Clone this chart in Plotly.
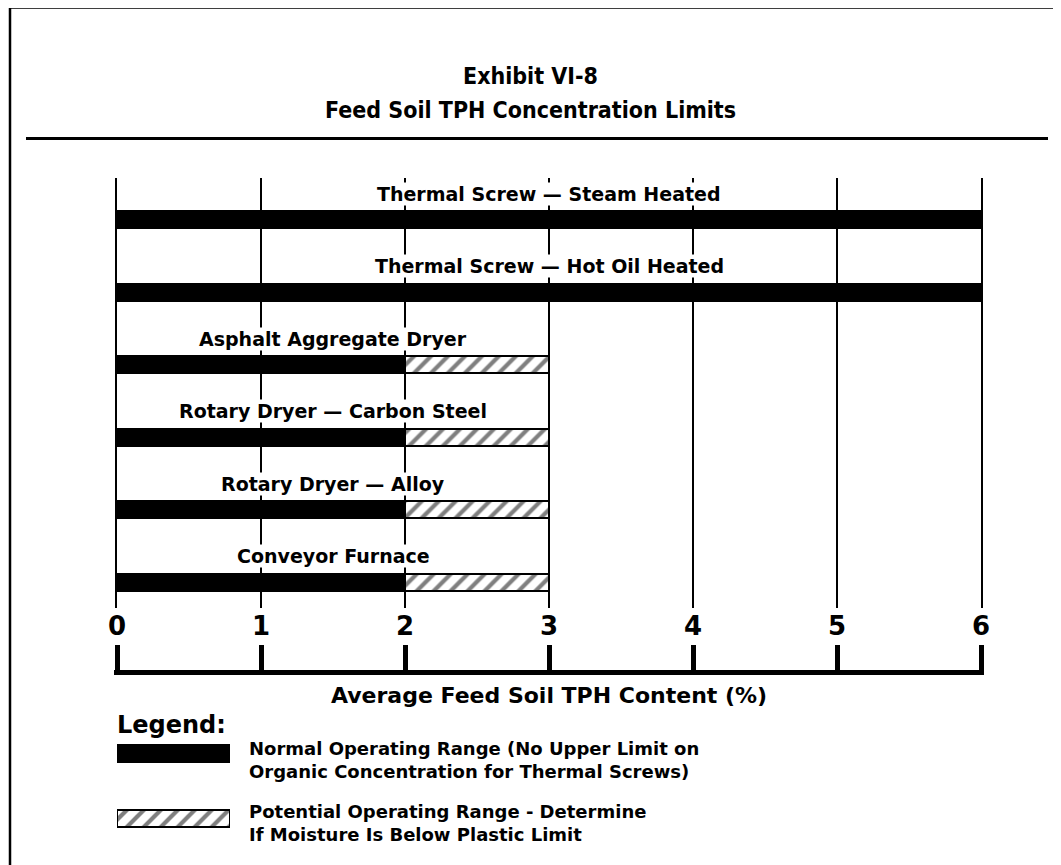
import plotly.graph_objects as go

# ---------------- data ----------------
categories = [
    "Thermal Screw \u2014 Steam Heated",
    "Thermal Screw \u2014 Hot Oil Heated",
    "Asphalt Aggregate Dryer",
    "Rotary Dryer \u2014 Carbon Steel",
    "Rotary Dryer \u2014 Alloy",
    "Conveyor Furnace",
]
normal_upper = [6, 6, 2, 2, 2, 2]       # normal operating range: 0 .. value (% TPH)
potential_upper = [6, 6, 3, 3, 3, 3]    # potential operating range: normal .. value
tick_vals = [0, 1, 2, 3, 4, 5, 6]
tick_text = ["0", "1", "2", "3", "4", "5", "6"]
title_lines = ["Exhibit VI-8", "Feed Soil TPH Concentration Limits"]
axis_title = "Average Feed Soil TPH Content (%)"
legend_heading = "Legend:"
legend_normal = ["Normal Operating Range (No Upper Limit on",
                 "Organic Concentration for Thermal Screws)"]
legend_potential = ["Potential Operating Range - Determine",
                    "If Moisture Is Below Plastic Limit"]

# ---------------- geometry helpers (screen pixel -> paper fraction) ----------------
OFF = 8                       # page body margin of the html page
FW, FH = 1061 - OFF, 865 - OFF
P_LEFT, P_RIGHT, P_TOP, P_BOT = 108, 995, 178, 850   # paper area in screen px
ML = P_LEFT - OFF
MR = FW - (P_RIGHT - OFF)
MT = P_TOP - OFF
MB = FH - (P_BOT - OFF)


def px_x(x):
    return (x - P_LEFT) / (P_RIGHT - P_LEFT)


def px_y(y):
    return (P_BOT - y) / (P_BOT - P_TOP)


X0_PX, X6_PX = 117, 981
UNIT_PX = (X6_PX - X0_PX) / 6
ROW_PITCH = 72.5
ROW0 = 219.5
BAR_PX = 19
PLOT_TOP, PLOT_BOT = 178, 608

idx = list(range(len(categories)))
bold = dict(family="DejaVu Sans", color="black", weight="bold")
hatch = dict(shape="/", fgcolor="black", bgcolor="white", size=12, solidity=0.35)

fig = go.Figure()

# normal operating range (solid black)
fig.add_trace(go.Bar(
    y=idx, x=normal_upper, base=[0] * len(idx), orientation="h",
    width=BAR_PX / ROW_PITCH,
    marker=dict(color="black", line=dict(width=0)),
    showlegend=False, hoverinfo="skip",
))

# potential operating range (hatched)
pot_y = [i for i in idx if potential_upper[i] > normal_upper[i]]
fig.add_trace(go.Bar(
    y=pot_y,
    x=[potential_upper[i] - normal_upper[i] for i in pot_y],
    base=[normal_upper[i] for i in pot_y],
    orientation="h",
    width=(BAR_PX - 2) / ROW_PITCH,
    marker=dict(color="white", line=dict(color="black", width=2), pattern=hatch),
    showlegend=False, hoverinfo="skip",
))

# empty trace so the bottom bracket axis (x2 / y4) is drawn
fig.add_trace(go.Scatter(x=[], y=[], xaxis="x2", yaxis="y4", showlegend=False))

# legend swatches (separate small subplot)
LEG_PITCH = 64.5
LEG_ROW0 = 753.5
fig.add_trace(go.Bar(
    y=[0], x=[1], orientation="h", width=BAR_PX / LEG_PITCH,
    marker=dict(color="black", line=dict(width=0)),
    xaxis="x3", yaxis="y3", showlegend=False, hoverinfo="skip",
))
fig.add_trace(go.Bar(
    y=[1], x=[1], orientation="h", width=(BAR_PX - 2) / LEG_PITCH,
    marker=dict(color="white", line=dict(color="black", width=2), pattern=hatch),
    xaxis="x3", yaxis="y3", showlegend=False, hoverinfo="skip",
))

annotations = []
# bar labels, centred over each bar's full extent
for i in idx:
    annotations.append(dict(
        x=potential_upper[i] / 2, y=i - 26 / ROW_PITCH, xref="x", yref="y",
        text=categories[i], showarrow=False, xanchor="center", yanchor="middle",
        font=dict(size=19, **bold), bgcolor="white", borderpad=0,
    ))

# title
title_font = dict(family="DejaVu Sans Condensed, DejaVu Sans", size=23,
                  color="black", weight="bold")
for line, ypx in zip(title_lines, [76, 110]):
    annotations.append(dict(
        x=px_x(530.5), y=px_y(ypx), xref="paper", yref="paper", text=line,
        showarrow=False, xanchor="center", yanchor="middle", font=title_font,
    ))

# axis title
annotations.append(dict(
    x=px_x((X0_PX + X6_PX) / 2), y=px_y(695), xref="paper", yref="paper",
    text=axis_title, showarrow=False, xanchor="center", yanchor="middle",
    font=dict(size=22, **bold),
))

# legend texts
annotations.append(dict(
    x=px_x(115), y=px_y(725), xref="paper", yref="paper", text=legend_heading,
    showarrow=False, xanchor="left", yanchor="middle", font=dict(size=24, **bold),
))
for lines, ypx in zip([legend_normal, legend_potential], [759.5, 823]):
    annotations.append(dict(
        x=px_x(247), y=px_y(ypx), xref="paper", yref="paper",
        text="<br>".join(lines), align="left",
        showarrow=False, xanchor="left", yanchor="middle", font=dict(size=18, **bold),
    ))

shapes = [
    # outer frame
    dict(type="rect", xref="paper", yref="paper",
         x0=px_x(10), x1=px_x(1080), y0=px_y(7.5), y1=px_y(890),
         line=dict(color="black", width=2.5), fillcolor="rgba(0,0,0,0)", layer="above"),
    # separator under the title
    dict(type="line", xref="paper", yref="paper",
         x0=px_x(26), x1=px_x(1048), y0=px_y(138.5), y1=px_y(138.5),
         line=dict(color="black", width=3)),
]

y_range = [(PLOT_BOT - ROW0) / ROW_PITCH, (PLOT_TOP - ROW0) / ROW_PITCH]
leg_top, leg_bot = 735, 836
leg_range = [(leg_bot - LEG_ROW0) / LEG_PITCH, (leg_top - LEG_ROW0) / LEG_PITCH]
ext = 3 / UNIT_PX   # bracket axis extends 3 px past 0 and 6 so its end ticks show

fig.update_layout(
    width=FW, height=FH,
    margin=dict(l=ML, r=MR, t=MT, b=MB, pad=0),
    paper_bgcolor="white", plot_bgcolor="white",
    barmode="overlay", bargap=0,
    showlegend=False,
    xaxis=dict(
        domain=[px_x(X0_PX), px_x(X6_PX)], anchor="y", range=[0, 6],
        tickmode="array", tickvals=tick_vals, ticktext=tick_text,
        ticks="", showgrid=True, gridcolor="black", gridwidth=2,
        zeroline=False, showline=False,
        tickfont=dict(size=26, **bold),
    ),
    yaxis=dict(
        domain=[px_y(PLOT_BOT), px_y(PLOT_TOP)], anchor="x", range=y_range,
        showticklabels=False, showgrid=False, zeroline=False,
        showline=True, linecolor="black", linewidth=2, mirror=True, ticks="",
    ),
    xaxis2=dict(
        domain=[px_x(X0_PX - 3), px_x(X6_PX + 3)], anchor="y4", side="bottom",
        range=[-ext, 6 + ext], tickmode="array", tickvals=tick_vals,
        showticklabels=False, ticks="inside", ticklen=25, tickwidth=5,
        tickcolor="black", showline=True, linewidth=5, linecolor="black",
        showgrid=False, zeroline=False,
    ),
    yaxis4=dict(domain=[px_y(670), px_y(640)], anchor="x2", range=[0, 1],
                visible=False),
    xaxis3=dict(domain=[px_x(117), px_x(230)], anchor="y3", range=[0, 1], visible=False),
    yaxis3=dict(domain=[px_y(leg_bot), px_y(leg_top)], anchor="x3",
                range=leg_range, visible=False),
    annotations=annotations,
    shapes=shapes,
)

fig.write_html("out.html")
